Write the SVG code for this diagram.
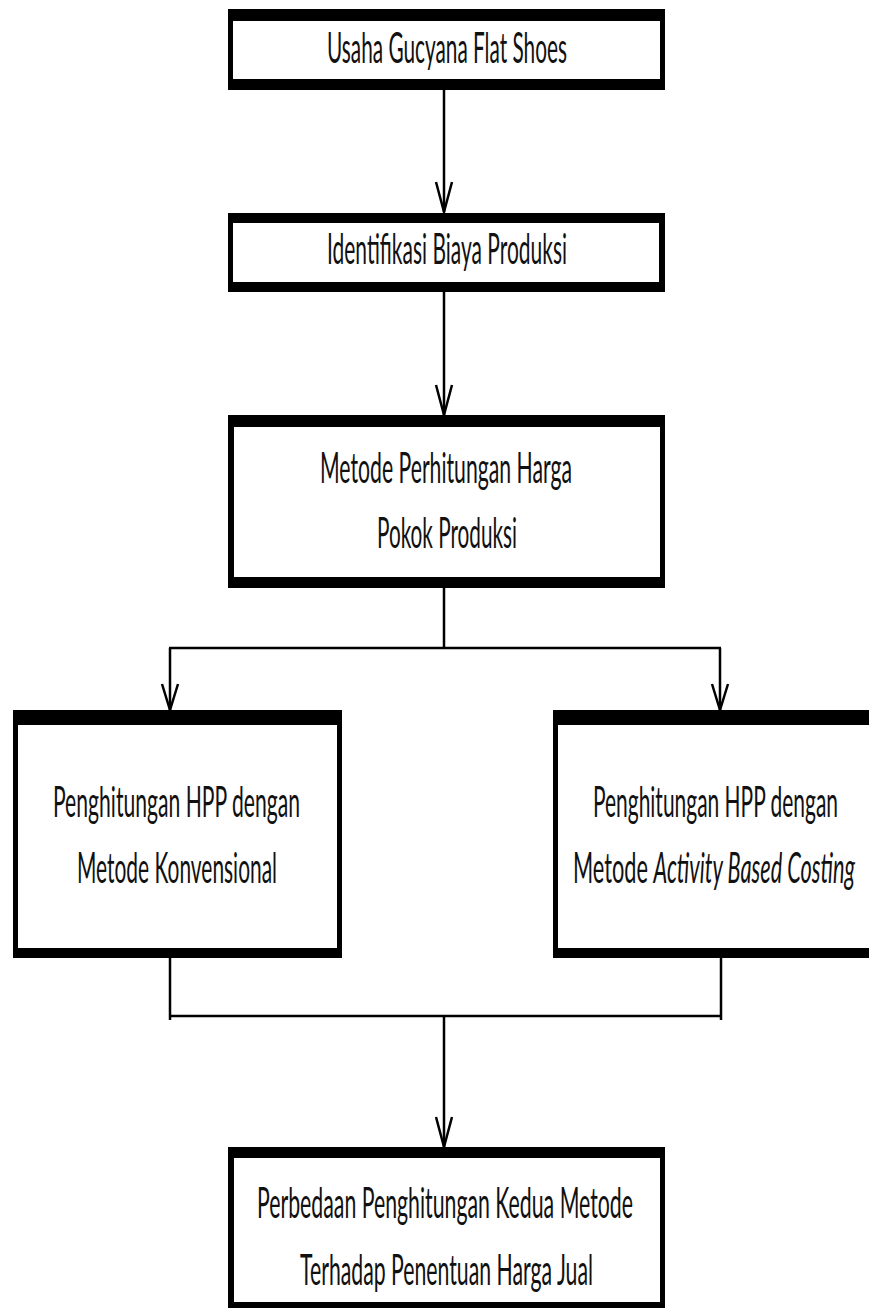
<svg xmlns="http://www.w3.org/2000/svg" width="869" height="1308" viewBox="0 0 869 1308">
<style>
.outer{fill:#000}
.inner{fill:#fff}
.t{font-family:Lato,"Open Sans","Liberation Sans",sans-serif;font-size:42px;fill:#111;text-anchor:middle}
.c{stroke:#000;stroke-width:2.5;fill:none}
.ah{stroke:#000;stroke-width:2.5;fill:none;stroke-linejoin:miter}
</style>
<rect width="869" height="1308" fill="#fff"/>
<g id="connectors">
<path class="c" d="M444 90V212"/>
<path class="ah" d="M436 182L444 212L452 182"/>
<path class="c" d="M444 292V415"/>
<path class="ah" d="M436 385L444 415L452 385"/>
<path class="c" d="M444 588V648M169 648H721M170 648V710M720 648V710"/>
<path class="ah" d="M162 684L170 710L178 684"/>
<path class="ah" d="M712 684L720 710L728 684"/>
<path class="c" d="M170 958V1020M721 958V1020M169 1016H722M444 1016V1147"/>
<path class="ah" d="M436 1117L444 1147L452 1117"/>
</g>
<g id="n1">
<rect class="outer" x="228" y="9" width="437" height="81"/>
<rect class="inner" x="233" y="21" width="427" height="58"/>
<text class="t" x="447" y="63" textLength="240" lengthAdjust="spacingAndGlyphs">Usaha Gucyana Flat Shoes</text>
</g>
<g id="n2">
<rect class="outer" x="228" y="213" width="437" height="79"/>
<rect class="inner" x="233" y="223" width="426" height="59"/>
<text class="t" x="447" y="264" textLength="240" lengthAdjust="spacingAndGlyphs">Identifikasi Biaya Produksi</text>
</g>
<g id="n3">
<rect class="outer" x="228" y="415" width="437" height="173"/>
<rect class="inner" x="234" y="427" width="426" height="150"/>
<text class="t" x="446" y="483" textLength="252" lengthAdjust="spacingAndGlyphs">Metode Perhitungan Harga</text>
<text class="t" x="447" y="548" textLength="140" lengthAdjust="spacingAndGlyphs">Pokok Produksi</text>
</g>
<g id="n4">
<rect class="outer" x="13" y="710" width="329" height="248"/>
<rect class="inner" x="18" y="725" width="319" height="223"/>
<text class="t" x="176.5" y="817" textLength="247" lengthAdjust="spacingAndGlyphs">Penghitungan HPP dengan</text>
<text class="t" x="177" y="883" textLength="200" lengthAdjust="spacingAndGlyphs">Metode Konvensional</text>
</g>
<g id="n5">
<rect class="outer" x="553" y="710" width="322" height="248"/>
<rect class="inner" x="558" y="725" width="317" height="223"/>
<text class="t" x="715.5" y="817" textLength="245" lengthAdjust="spacingAndGlyphs">Penghitungan HPP dengan</text>
<text class="t" x="714" y="883" textLength="282" lengthAdjust="spacingAndGlyphs">Metode <tspan font-style="italic">Activity Based Costing</tspan></text>
</g>
<g id="n6">
<rect class="outer" x="228" y="1147" width="437" height="168"/>
<rect class="inner" x="234" y="1158" width="426" height="144"/>
<text class="t" x="445" y="1218" textLength="376" lengthAdjust="spacingAndGlyphs">Perbedaan Penghitungan Kedua Metode</text>
<text class="t" x="446.5" y="1285" textLength="293" lengthAdjust="spacingAndGlyphs">Terhadap Penentuan Harga Jual</text>
</g>
</svg>
